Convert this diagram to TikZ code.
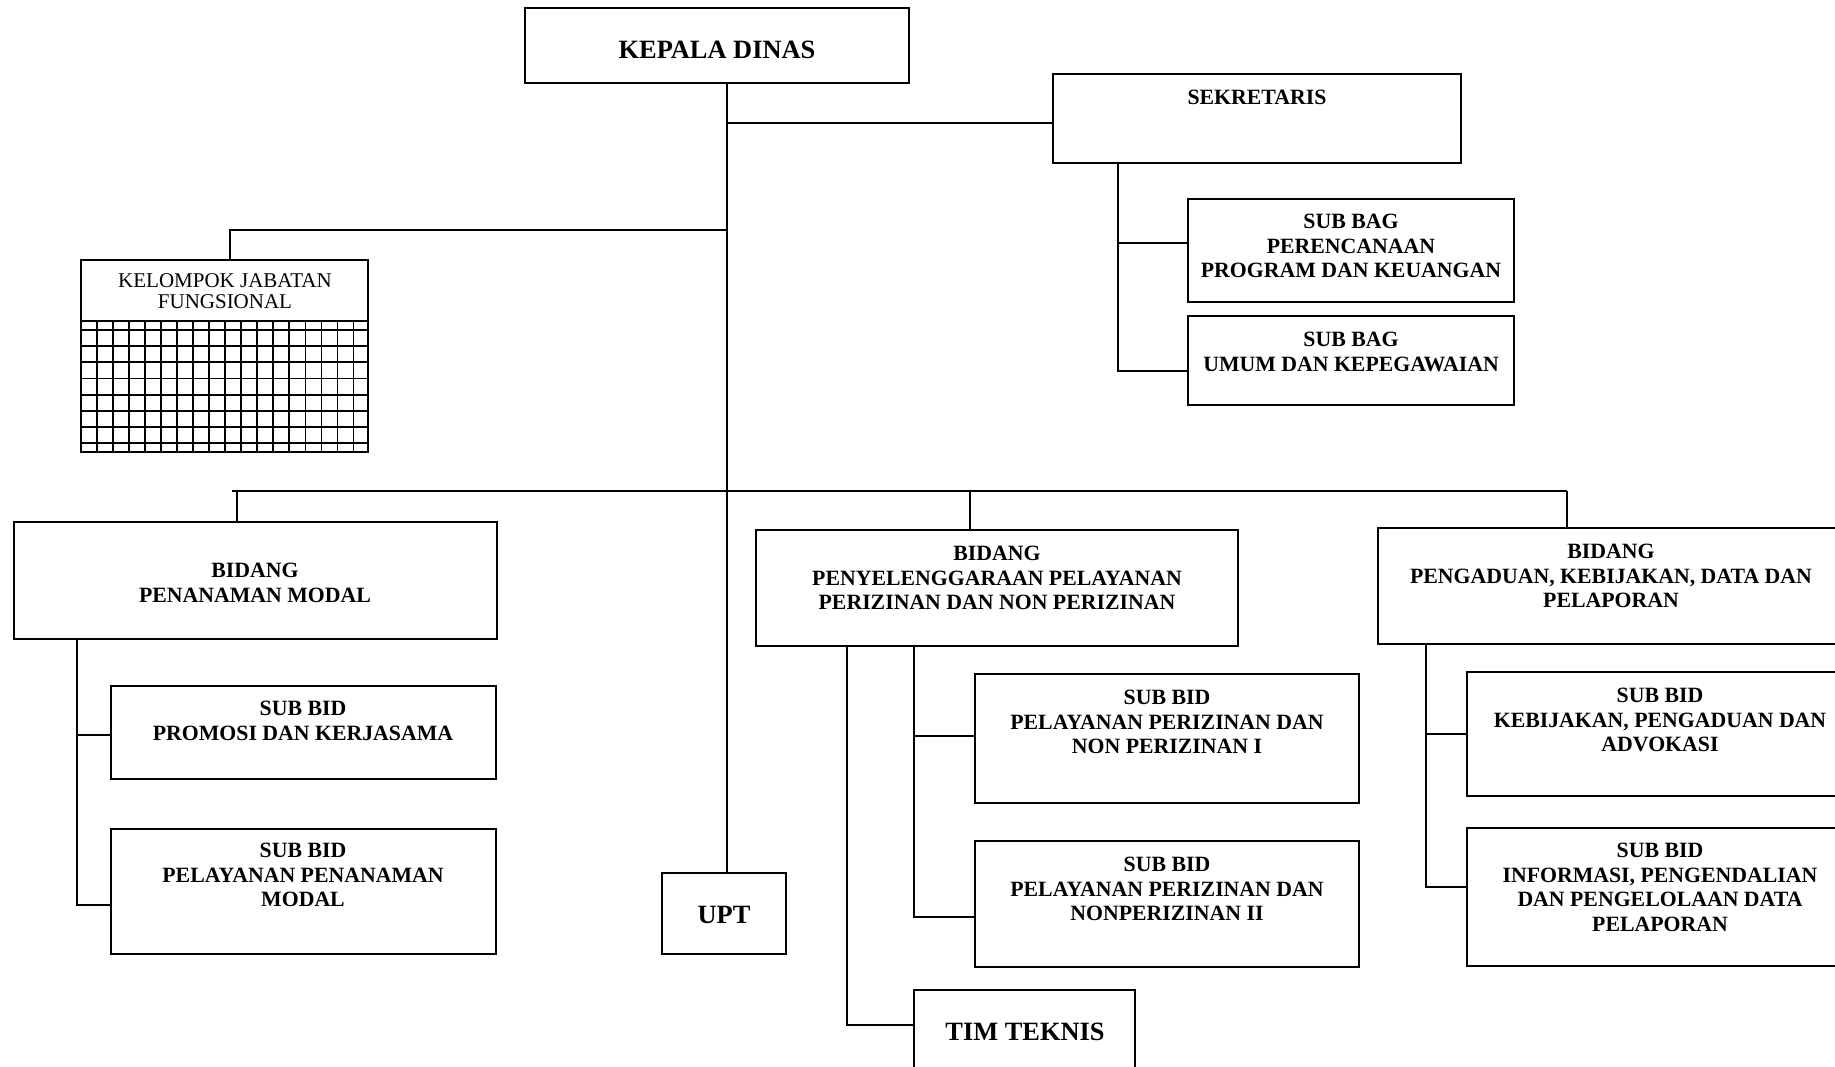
\documentclass[tikz,border=0pt]{standalone}
\usepackage{fontspec}
\setmainfont{Liberation Serif}
\begin{document}
\begin{tikzpicture}[x=1pt,y=-1pt,
  box/.style={draw,line width=1.8pt,anchor=north west,inner sep=0pt,outer sep=0pt},
  txt/.style={font=\bfseries\fontsize{21.8}{24.6}\selectfont,align=center,inner sep=0pt},
  bigtxt/.style={font=\bfseries\fontsize{26.4}{28}\selectfont,align=center,inner sep=0pt},
  regtxt/.style={font=\fontsize{21}{21}\selectfont,align=center,inner sep=0pt},
  conn/.style={line width=1.8pt}]
\useasboundingbox (0,0) rectangle (1835,1066);
\clip (0,0) rectangle (1835,1066);
% boxes
\node[box,minimum width=384pt,minimum height=75pt] (kd) at (525,8) {};
\node[box,minimum width=408pt,minimum height=89pt] (sek) at (1053,74) {};
\node[box,minimum width=326pt,minimum height=103pt] (sbp) at (1188,199) {};
\node[box,minimum width=326pt,minimum height=89pt] (sbu) at (1188,316) {};
\node[box,minimum width=287.3pt,minimum height=192pt] (kjf) at (80.7,260) {};
\node[box,minimum width=483pt,minimum height=117pt] (bpm) at (14,522) {};
\node[box,minimum width=385pt,minimum height=93pt] (sbpr) at (111,686) {};
\node[box,minimum width=385pt,minimum height=125pt] (sbpp) at (111,829) {};
\node[box,minimum width=124pt,minimum height=81pt] (upt) at (662,873) {};
\node[box,minimum width=482pt,minimum height=116pt] (bppp) at (756,530) {};
\node[box,minimum width=384pt,minimum height=129pt] (sp1) at (975,674) {};
\node[box,minimum width=384pt,minimum height=126pt] (sp2) at (975,841) {};
\node[box,minimum width=221pt,minimum height=100pt] (tim) at (914,990) {};
\node[box,minimum width=472pt,minimum height=116pt] (bpk) at (1378,528) {};
\node[box,minimum width=393pt,minimum height=124pt] (sbk) at (1467,672) {};
\node[box,minimum width=393pt,minimum height=138pt] (sbi) at (1467,828) {};
% grid of kelompok jabatan
\draw[conn] (kjf.west |- 0,321) -- (kjf.east |- 0,321);
\foreach \k in {0,...,7} \draw[conn] (80.7,330+16.15*\k) -- (368,330+16.15*\k);
\foreach \k in {1,...,17} \draw[conn] (80.7+16.05*\k,321) -- (80.7+16.05*\k,452);
% texts
\node[bigtxt] (tkd) at (717,50) {KEPALA DINAS};
\node[txt] (tsek) at (1257,97) {SEKRETARIS};
\node[txt] (tsbp) at (1351,246) {SUB BAG\\PERENCANAAN\\PROGRAM DAN KEUANGAN};
\node[txt] (tsbu) at (1351,352) {SUB BAG\\UMUM DAN KEPEGAWAIAN};
\node[regtxt] (tkjf) at (225,291) {KELOMPOK JABATAN\\FUNGSIONAL};
\node[txt] (tbpm) at (255,583) {BIDANG\\PENANAMAN MODAL};
\node[txt] (tsbpr) at (303,721) {SUB BID\\PROMOSI DAN KERJASAMA};
\node[txt] (tsbpp) at (303,875) {SUB BID\\PELAYANAN PENANAMAN\\MODAL};
\node[bigtxt] (tupt) at (724,915) {UPT};
\node[txt] (tbppp) at (997,578) {BIDANG\\PENYELENGGARAAN PELAYANAN\\PERIZINAN DAN NON PERIZINAN};
\node[txt] (tsp1) at (1167,722) {SUB BID\\PELAYANAN PERIZINAN DAN\\NON PERIZINAN I};
\node[txt] (tsp2) at (1167,889) {SUB BID\\PELAYANAN PERIZINAN DAN\\NONPERIZINAN II};
\node[bigtxt] (ttim) at (1025,1032) {TIM TEKNIS};
\node[txt] (tbpk) at (1611,576) {BIDANG\\PENGADUAN, KEBIJAKAN, DATA DAN\\PELAPORAN};
\node[txt] (tsbk) at (1660,720) {SUB BID\\KEBIJAKAN, PENGADUAN DAN\\ADVOKASI};
\node[txt] (tsbi) at (1660,887.5) {SUB BID\\INFORMASI, PENGENDALIAN\\DAN PENGELOLAAN DATA\\PELAPORAN};
% connectors
\coordinate (sp) at (727,83);
\draw[conn] (sp) -- (upt.north -| sp);
\draw[conn] (sp |- 0,123) -- (sek.west |- 0,123);
\draw[conn] (sp |- 0,230) -- (230,230) -- (kjf.north -| 230,0);
\draw[conn] (232,491) -- (1567,491);
\draw[conn] (237,491) -- (bpm.north -| 237,0);
\draw[conn] (970,491) -- (bppp.north -| 970,0);
\draw[conn] (1567,491) -- (bpk.north -| 1567,0);
% PM subs
\draw[conn] (bpm.south -| 77,0) -- (77,905) -- (sbpp.west |- 0,905);
\draw[conn] (77,735) -- (sbpr.west |- 0,735);
% sekretaris subs
\draw[conn] (sek.south -| 1118,0) -- (1118,371) -- (sbu.west |- 0,371);
\draw[conn] (1118,243) -- (sbp.west |- 0,243);
% PPP subs
\draw[conn] (bppp.south -| 847,0) -- (847,1025) -- (tim.west |- 0,1025);
\draw[conn] (bppp.south -| 914,0) -- (914,917) -- (sp2.west |- 0,917);
\draw[conn] (914,736) -- (sp1.west |- 0,736);
% PKDP subs
\draw[conn] (bpk.south -| 1426,0) -- (1426,887) -- (sbi.west |- 0,887);
\draw[conn] (1426,734) -- (sbk.west |- 0,734);
\end{tikzpicture}
\end{document}
